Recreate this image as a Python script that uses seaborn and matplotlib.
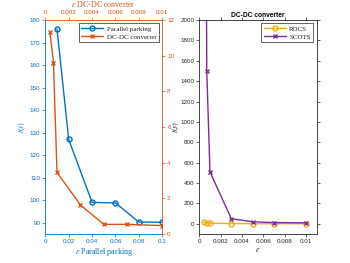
import matplotlib
matplotlib.use("Agg")
import matplotlib.pyplot as plt
from matplotlib.ticker import FuncFormatter
import seaborn as sns
import pandas as pd

sns.set_style("ticks")
plt.rcParams["font.family"] = ["Liberation Sans", "DejaVu Sans"]
plt.rcParams["mathtext.fontset"] = "stix"

# data
eps_pp = [0.01, 0.02, 0.04, 0.06, 0.08, 0.1]
t_pp = [176, 127, 99, 98.8, 90.3, 90.2]

eps_dc = [0.0004, 0.0007, 0.001, 0.003, 0.005, 0.007, 0.01]
t_dc = [11.3, 9.6, 3.45, 1.63, 0.54, 0.54, 0.47]

t_rocs = [15, 12, 6, 2, 1, 1, 1]
t_scots = [9000, 1500, 510, 50, 20, 12, 10]

BLUE = "#0072BD"
ORANGE = "#D95319"
YELLOW = "#EDB120"
PURPLE = "#7E2F8E"
DARK = "#262626"

serif = ["Liberation Serif", "DejaVu Serif"]
tick_fs = 4.5
label_fs = 5.8
leg_fs = 5.0
fmt = FuncFormatter(lambda v, _: f"{v:g}")

fig = plt.figure(figsize=(3.5, 2.63), dpi=100)

# ---- left panel: parallel parking (bottom/left) + DC-DC (top/right)
ax = fig.add_axes([0.1294, 0.1103, 0.3343, 0.8137])
ax2 = fig.add_axes(ax.get_position(), label="dc")
ax2.patch.set_visible(False)

df_pp = pd.DataFrame({"eps": eps_pp, "t": t_pp})
df_dc = pd.DataFrame({"eps": eps_dc, "t": t_dc})

sns.lineplot(data=df_pp, x="eps", y="t", ax=ax, color=BLUE, lw=1.0,
             marker="o", markersize=3.6, markerfacecolor="none",
             markeredgecolor=BLUE, markeredgewidth=1.0, label="Parallel parking",
             legend=False)
sns.lineplot(data=df_dc, x="eps", y="t", ax=ax2, color=ORANGE, lw=1.0,
             marker="x", markersize=2.4, markeredgecolor=ORANGE,
             markeredgewidth=1.0, label="DC-DC converter", legend=False)

ax.set_xlim(0, 0.1)
ax.set_ylim(85, 180)
ax.set_xticks([0, 0.02, 0.04, 0.06, 0.08, 0.1])
ax.set_yticks(range(90, 181, 10))
ax.xaxis.set_major_formatter(fmt)
ax.set_xlabel(r"$\varepsilon$ Parallel parking", color=BLUE, fontsize=label_fs,
              family=serif, labelpad=1.5)
ax.set_ylabel(r"$t(s)$", color=BLUE, fontsize=label_fs, family=serif, labelpad=1.5)
ax.tick_params(colors=BLUE, labelsize=tick_fs, length=2, width=0.5, pad=1.5,
               direction="out")
for s in ["top", "right"]:
    ax.spines[s].set_visible(False)
for s in ["left", "bottom"]:
    ax.spines[s].set_color(BLUE)
    ax.spines[s].set_linewidth(0.6)

ax2.set_xlim(0, 0.01)
ax2.set_ylim(0, 12)
ax2.xaxis.tick_top()
ax2.xaxis.set_label_position("top")
ax2.yaxis.tick_right()
ax2.yaxis.set_label_position("right")
ax2.set_xticks([0, 0.002, 0.004, 0.006, 0.008, 0.01])
ax2.set_yticks(range(0, 13, 2))
ax2.xaxis.set_major_formatter(fmt)
ax2.set_xlabel(r"$\varepsilon$ DC-DC converter", color=ORANGE, fontsize=label_fs,
               family=serif, labelpad=2)
ax2.set_ylabel("")
ax2.tick_params(colors=ORANGE, labelsize=tick_fs, length=2, width=0.5, pad=1.5,
                direction="out")
for s in ["left", "bottom"]:
    ax2.spines[s].set_visible(False)
for s in ["top", "right"]:
    ax2.spines[s].set_visible(True)
    ax2.spines[s].set_color(ORANGE)
    ax2.spines[s].set_linewidth(0.6)

h1, l1 = ax.get_legend_handles_labels()
h2, l2 = ax2.get_legend_handles_labels()
leg = ax2.legend(h1 + h2, l1 + l2, loc="upper right", fancybox=False,
                 framealpha=1, edgecolor=DARK, prop={"family": serif, "size": leg_fs},
                 handlelength=3.2, borderpad=0.35, labelspacing=0.3,
                 handletextpad=0.5, borderaxespad=0.5)
leg.get_frame().set_linewidth(0.5)

# ---- right panel: ROCS vs SCOTS
axr = fig.add_axes([0.5694, 0.1103, 0.3355, 0.8137])
df_r = pd.DataFrame({"eps": eps_dc * 2,
                     "t": t_rocs + t_scots,
                     "tool": ["ROCS"] * len(eps_dc) + ["SCOTS"] * len(eps_dc)})
sns.lineplot(data=df_r[df_r.tool == "ROCS"], x="eps", y="t", ax=axr, color=YELLOW,
             lw=1.0, marker="o", markersize=3.6, markerfacecolor="none",
             markeredgecolor=YELLOW, markeredgewidth=1.0, label="ROCS", legend=False)
sns.lineplot(data=df_r[df_r.tool == "SCOTS"], x="eps", y="t", ax=axr, color=PURPLE,
             lw=1.0, marker="x", markersize=2.4, markeredgecolor=PURPLE,
             markeredgewidth=1.0, label="SCOTS", legend=False)

axr.set_xlim(0, 0.011)
axr.set_ylim(-100, 2000)
axr.set_xticks([0, 0.002, 0.004, 0.006, 0.008, 0.01])
axr.set_yticks(range(0, 2001, 200))
axr.xaxis.set_major_formatter(fmt)
axr.set_xlabel(r"$\varepsilon$", fontsize=label_fs, family=serif, color=DARK,
               labelpad=1.5)
axr.set_ylabel(r"$t(s)$", fontsize=label_fs, family=serif, color=DARK)
axr.yaxis.set_label_coords(-0.148, 0.5)
axr.set_title("DC-DC converter", fontsize=4.8, fontweight="bold", color="black",
              pad=2)
axr.tick_params(colors=DARK, labelsize=tick_fs, length=2, width=0.5, pad=1.5,
                direction="out", top=True, right=True, labeltop=False,
                labelright=False)
for s in axr.spines.values():
    s.set_visible(True)
    s.set_color(DARK)
    s.set_linewidth(0.6)
legr = axr.legend(loc="upper right", fancybox=False, framealpha=1, edgecolor=DARK,
                  prop={"family": serif, "size": leg_fs}, handlelength=3.2,
                  borderpad=0.35, labelspacing=0.3, handletextpad=0.5,
                  borderaxespad=0.5)
legr.get_frame().set_linewidth(0.5)

fig.savefig("out.png", dpi=100)
plt.close()
